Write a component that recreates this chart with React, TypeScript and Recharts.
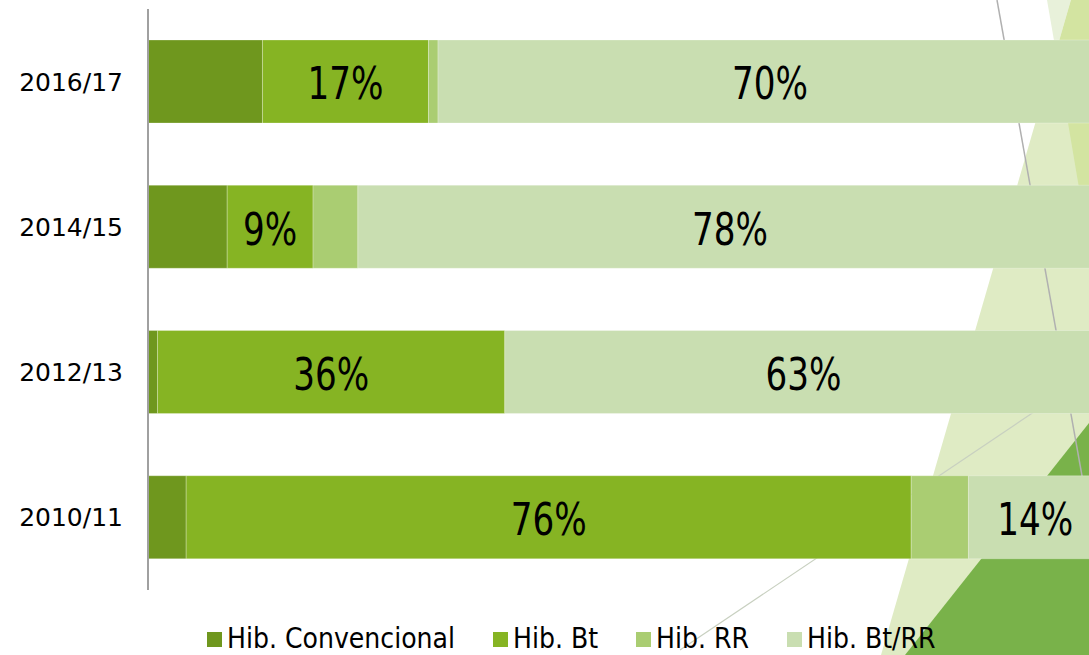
import React from "react";
import { BarChart, Bar, XAxis, YAxis, Legend, LabelList } from "recharts";

// seasons, top to bottom as drawn
const seasons = ["2016/17", "2014/15", "2012/13", "2010/11"];

// share of planted area per hybrid type (%)
const convencional = [12, 8.3, 1, 4];
const bt = [17.4, 9, 36.4, 76];
const rr = [1, 4.7, 0, 6];
const btRr = [69.6, 78, 62.6, 14];

const seriesKeys = ["conv", "bt", "rr", "btRr"];
const seriesNames = ["Hib. Convencional", "Hib. Bt", "Hib. RR", "Hib. Bt/RR"];
const seriesColors = ["#6f971e", "#86b423", "#aacd72", "#c9deb1"];
const labelledSeries = ["bt", "btRr"];

const chartData = seasons.map((season, i) => ({
  season,
  conv: convencional[i],
  bt: bt[i],
  rr: rr[i],
  btRr: btRr[i],
}));

// big percentage inside the bar, squeezed horizontally like the original
const PercentLabel: React.FC<any> = ({ x, y, width, height, value }) => {
  if (value == null) return null;
  const cx = Number(x) + Number(width) / 2;
  const cy = Number(y) + Number(height) / 2 + 2;
  return (
    <text
      transform={`translate(${cx},${cy}) scale(0.76,1)`}
      textAnchor="middle"
      dominantBaseline="central"
      fill="#000"
      fontSize={45}
      fontFamily="'DejaVu Sans', sans-serif"
    >
      {`${Math.round(value)}%`}
    </text>
  );
};

const LegendContent: React.FC<any> = ({ payload }) => {
  if (!payload) return null;
  const items = [...payload].sort(
    (a: any, b: any) => seriesNames.indexOf(a.value) - seriesNames.indexOf(b.value)
  );
  return (
    <div
      style={{
        display: "flex",
        alignItems: "center",
        fontFamily: "'DejaVu Sans Condensed', sans-serif",
        fontSize: 28,
        lineHeight: "30px",
        whiteSpace: "nowrap",
      }}
    >
      {items.map((item: any) => (
        <div key={item.value} style={{ display: "flex", alignItems: "center", marginRight: 38 }}>
          <span style={{ display: "inline-block", width: 15, height: 15, background: item.color, marginRight: 5 }} />
          <span style={{ color: "#000" }}>{item.value}</span>
        </div>
      ))}
    </div>
  );
};

// slide decoration behind the chart
const Backdrop: React.FC = () => (
  <svg width={1089} height={655} style={{ position: "absolute", left: 0, top: 0 }}>
    <polygon points="1071,0 1089,0 1089,655 881,655" fill="#dfebc4" />
    <polygon points="1047,0 1071,0 1056,52" fill="#e8f1da" />
    <polygon points="1071,0 1089,0 1089,247 1056,52" fill="#d3e4a1" />
    <polygon points="1089,423 1089,655 905,655" fill="#79b24a" />
    <line x1={997} y1={0} x2={1089} y2={515} stroke="#b0b0b0" strokeWidth={1.5} />
    <line x1={680} y1={650} x2={1089} y2={375} stroke="#c8d0c0" strokeWidth={1.2} />
  </svg>
);

export default function App() {
  return (
    <div
      style={{
        position: "absolute",
        left: 0,
        top: 0,
        width: 1089,
        height: 655,
        overflow: "hidden",
        background: "#ffffff",
      }}
    >
      <Backdrop />
      <BarChart
        width={1110}
        height={655}
        data={chartData}
        layout="vertical"
        margin={{ top: 9, right: 8, bottom: 65, left: 0 }}
        barCategoryGap={31}
        style={{ position: "absolute", left: 0, top: 0 }}
      >
        <XAxis type="number" domain={[0, 100]} hide />
        <YAxis
          type="category"
          dataKey="season"
          width={148}
          tickLine={false}
          tickSize={0}
          tickMargin={25}
          axisLine={{ stroke: "#a0a0a0", strokeWidth: 2 }}
          tick={{ fill: "#000", fontSize: 25, fontFamily: "'DejaVu Sans', sans-serif" }}
        />
        <Legend
          content={<LegendContent />}
          wrapperStyle={{ left: 207, top: 624, width: 880, height: 0, overflow: "visible" }}
        />
        {seriesKeys.map((key, i) => (
          <Bar
            key={key}
            dataKey={key}
            name={seriesNames[i]}
            stackId="share"
            fill={seriesColors[i]}
            stroke="#ffffff"
            strokeOpacity={0.25}
            strokeWidth={1}
            isAnimationActive={false}
          >
            {labelledSeries.includes(key) && <LabelList dataKey={key} content={<PercentLabel />} />}
          </Bar>
        ))}
      </BarChart>
    </div>
  );
}
